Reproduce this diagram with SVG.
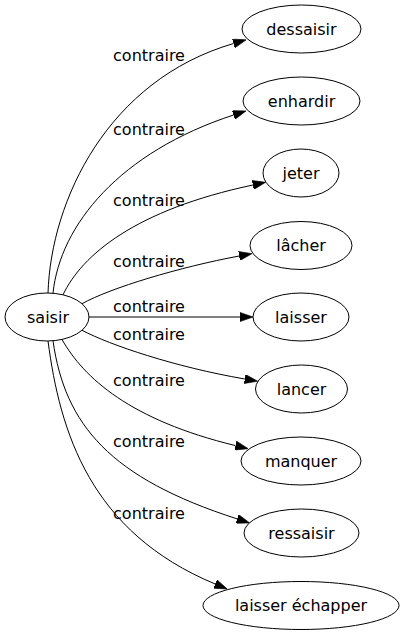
<svg xmlns="http://www.w3.org/2000/svg" width="405" height="635" viewBox="0 0 405 635">
<style>
.node ellipse{fill:none;stroke:#000;stroke-width:1}
.node text,.lbl{font-family:"DejaVu Sans",sans-serif;font-size:16px;fill:#000;text-anchor:middle}
.edge{fill:none;stroke:#000;stroke-width:1;marker-end:url(#arr)}
</style>
<defs>
<marker id="arr" markerUnits="userSpaceOnUse" viewBox="0 0 10 7" refX="0" refY="3.5" markerWidth="13" markerHeight="9.1" orient="auto">
<path d="M0,0 L10,3.5 L0,7 z" fill="#000" stroke="#000" stroke-width="0.5"/>
</marker>
</defs>
<rect width="405" height="635" fill="#fff"/>
<g id="connectors">
<path class="edge" d="M48,293 C51,200 108,80 233.6,43.5"/>
<path class="edge" d="M53,293.2 C60,225 120,152 233.6,115"/>
<path class="edge" d="M63,294.8 C82,255 135,210 252.9,185"/>
<path class="edge" d="M82,303.7 C110,288 180,267 239.2,256"/>
<path class="edge" d="M89,317 L240,317"/>
<path class="edge" d="M82,330.3 C110,345 175,367 244.8,379"/>
<path class="edge" d="M62,339.5 C84,378 130,420 235.5,445.6"/>
<path class="edge" d="M53,340.8 C65,425 110,478 237.2,518.9"/>
<path class="edge" d="M48,341 C60,432 90,532 215.2,584"/>
<text class="lbl" x="149" y="61">contraire</text>
<text class="lbl" x="149" y="134.5">contraire</text>
<text class="lbl" x="149" y="206">contraire</text>
<text class="lbl" x="149" y="266.5">contraire</text>
<text class="lbl" x="149" y="311.5">contraire</text>
<text class="lbl" x="149" y="339.5">contraire</text>
<text class="lbl" x="149" y="385.5">contraire</text>
<text class="lbl" x="149" y="446.5">contraire</text>
<text class="lbl" x="149" y="518.5">contraire</text>
</g>
<g id="saisir" class="node"><ellipse cx="47" cy="317" rx="42" ry="24"/><text x="48" y="322.5">saisir</text></g>
<g id="dessaisir" class="node"><ellipse cx="301.5" cy="29" rx="59.5" ry="24"/><text x="301.5" y="34.5">dessaisir</text></g>
<g id="enhardir" class="node"><ellipse cx="301.5" cy="101" rx="58.5" ry="24"/><text x="301.5" y="106.5">enhardir</text></g>
<g id="jeter" class="node"><ellipse cx="301" cy="173" rx="38" ry="24"/><text x="301" y="178.5">jeter</text></g>
<g id="lacher" class="node"><ellipse cx="301" cy="245.5" rx="51" ry="24"/><text x="301" y="251">lâcher</text></g>
<g id="laisser" class="node"><ellipse cx="301" cy="317" rx="48" ry="24"/><text x="301" y="322.5">laisser</text></g>
<g id="lancer" class="node"><ellipse cx="301.5" cy="389" rx="46" ry="24"/><text x="301.5" y="394.5">lancer</text></g>
<g id="manquer" class="node"><ellipse cx="301" cy="461" rx="60" ry="24"/><text x="301" y="466.5">manquer</text></g>
<g id="ressaisir" class="node"><ellipse cx="301.5" cy="533" rx="57.5" ry="24"/><text x="301.5" y="538.5">ressaisir</text></g>
<g id="laisser_echapper" class="node"><ellipse cx="301" cy="605.5" rx="98" ry="24"/><text x="301" y="611">laisser échapper</text></g>
</svg>
